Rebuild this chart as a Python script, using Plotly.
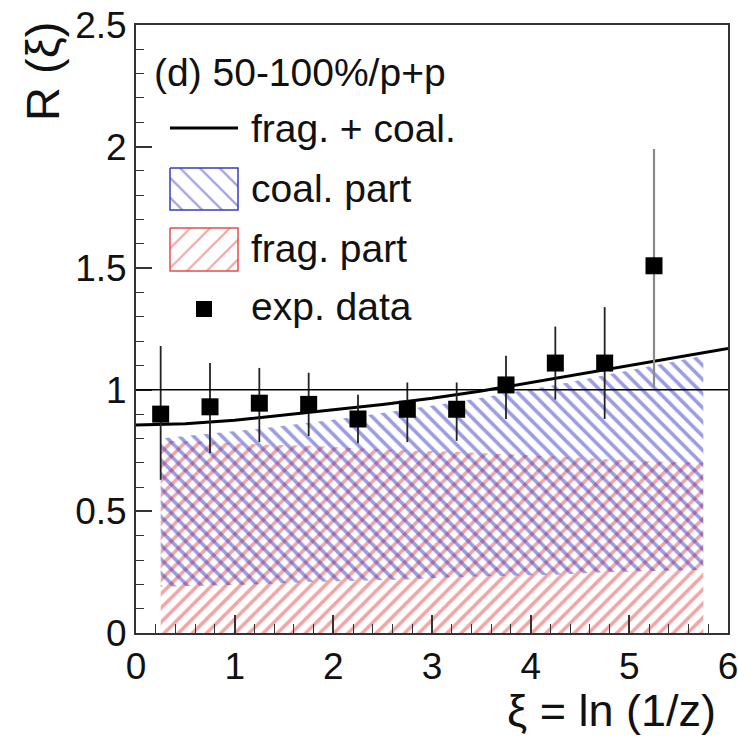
import plotly.graph_objects as go

# ---- data ----
xi_pts = [0.25, 0.75, 1.25, 1.75, 2.25, 2.75, 3.25, 3.75, 4.25, 4.75, 5.25]
r_exp = [0.90, 0.93, 0.945, 0.94, 0.88, 0.92, 0.92, 1.02, 1.11, 1.11, 1.51]
err_up = [0.28, 0.18, 0.145, 0.13, 0.10, 0.11, 0.11, 0.12, 0.15, 0.23, 0.48]
err_dn = [0.27, 0.19, 0.16, 0.13, 0.10, 0.135, 0.13, 0.14, 0.15, 0.23, 0.50]

xi_line = [0.0, 0.5, 1.0, 1.5, 2.0, 2.5, 3.0, 3.5, 4.0, 4.5, 5.0, 5.5, 6.0]
r_total = [0.855, 0.86, 0.875, 0.895, 0.918, 0.94, 0.965, 0.995, 1.03, 1.065, 1.10, 1.135, 1.17]

xi_band = [0.25, 0.75, 1.25, 1.75, 2.25, 2.75, 3.25, 3.75, 4.25, 4.75, 5.25, 5.75]
coal_lo = [0.19, 0.195, 0.20, 0.21, 0.215, 0.22, 0.23, 0.235, 0.24, 0.25, 0.255, 0.26]
coal_hi = [0.80, 0.82, 0.84, 0.865, 0.89, 0.92, 0.95, 0.985, 1.02, 1.06, 1.10, 1.14]
frag_hi = [0.79, 0.785, 0.775, 0.77, 0.76, 0.75, 0.745, 0.735, 0.725, 0.715, 0.705, 0.70]

x_ticks = [0, 1, 2, 3, 4, 5, 6]
y_ticks = [0, 0.5, 1, 1.5, 2, 2.5]
y_tick_text = ["0", "0.5", "1", "1.5", "2", "2.5"]

legend_labels = ["frag. + coal.", "coal. part", "frag. part", "exp. data"]
panel_label = "(d) 50-100%/p+p"

BLUE = "#3a3ac8"
RED = "#e64c4c"
FONT = "Liberation Sans"
FS_TICK = 37
FS_LEG = 39
FS_TITLE = 45

fig = go.Figure()

# frag part (red hatch from 0)
fig.add_trace(go.Scatter(
    x=xi_band + xi_band[::-1],
    y=frag_hi + [0.0] * len(xi_band),
    fill="toself", mode="lines", line=dict(width=0, color="rgba(0,0,0,0)"),
    fillcolor="rgba(0,0,0,0)",
    fillpattern=dict(shape="/", fgcolor=RED, bgcolor="rgba(0,0,0,0)", size=10, solidity=0.36),
    showlegend=False, hoverinfo="skip"))

# coal part (blue hatch band)
fig.add_trace(go.Scatter(
    x=xi_band + xi_band[::-1],
    y=coal_hi + coal_lo[::-1],
    fill="toself", mode="lines", line=dict(width=0, color="rgba(0,0,0,0)"),
    fillcolor="rgba(0,0,0,0)",
    fillpattern=dict(shape="\\", fgcolor=BLUE, bgcolor="rgba(0,0,0,0)", size=10, solidity=0.36),
    showlegend=False, hoverinfo="skip"))

# total line
fig.add_trace(go.Scatter(x=xi_line, y=r_total, mode="lines",
                         line=dict(color="black", width=3), showlegend=False))

# exp data
n = len(xi_pts) - 1
fig.add_trace(go.Scatter(
    x=xi_pts[:n], y=r_exp[:n], mode="markers",
    marker=dict(symbol="square", size=17, color="black"),
    error_y=dict(type="data", symmetric=False, array=err_up[:n], arrayminus=err_dn[:n],
                 color="#222222", thickness=1.8, width=0),
    showlegend=False))
fig.add_trace(go.Scatter(
    x=xi_pts[n:], y=r_exp[n:], mode="markers",
    marker=dict(symbol="square", size=17, color="black"),
    error_y=dict(type="data", symmetric=False, array=err_up[n:], arrayminus=err_dn[n:],
                 color="#8a8a8a", thickness=2.2, width=0),
    showlegend=False))

fig.add_hline(y=1, line=dict(color="black", width=1.6))

# ---- hand-drawn ROOT-style legend on a pixel overlay axis ----
L_X0, L_X1 = 170, 238
fig.add_trace(go.Scatter(x=[L_X0, L_X1], y=[128, 128], mode="lines",
                         line=dict(color="black", width=3), xaxis="x2", yaxis="y2",
                         showlegend=False, hoverinfo="skip"))
for (y0, y1, col, shp) in [(168, 210, BLUE, "\\"), (228, 271, RED, "/")]:
    fig.add_trace(go.Scatter(
        x=[L_X0, L_X1, L_X1, L_X0, L_X0], y=[y0, y0, y1, y1, y0],
        fill="toself", mode="lines", line=dict(color=col, width=1.5),
        fillcolor="rgba(0,0,0,0)",
        fillpattern=dict(shape=shp, fgcolor=col, bgcolor="rgba(0,0,0,0)", size=14, solidity=0.16),
        xaxis="x2", yaxis="y2", showlegend=False, hoverinfo="skip"))
fig.add_trace(go.Scatter(x=[204], y=[309], mode="markers",
                         marker=dict(symbol="square", size=16, color="black"),
                         xaxis="x2", yaxis="y2", showlegend=False, hoverinfo="skip"))

for lab, yy in zip(legend_labels, [128, 188, 248, 306]):
    fig.add_annotation(x=249, y=yy, xref="x2", yref="y2", text=lab, showarrow=False,
                       xanchor="left", yanchor="middle", font=dict(family=FONT, size=FS_LEG, color="#111"))
fig.add_annotation(x=152, y=72, xref="x2", yref="y2", text=panel_label, showarrow=False,
                   xanchor="left", yanchor="middle", font=dict(family=FONT, size=FS_LEG, color="#111"))

# axis titles
fig.add_annotation(x=1, y=0, xref="paper", yref="paper", xshift=-10, yshift=-77, text="ξ = ln (1/z)",
                   showarrow=False, xanchor="right", yanchor="middle",
                   font=dict(family=FONT, size=FS_TITLE, color="#111"))
fig.add_annotation(x=0, y=1, xref="paper", yref="paper", xshift=-94, yshift=-47, text="R (ξ)",
                   textangle=-90, showarrow=False, xanchor="center", yanchor="middle",
                   font=dict(family=FONT, size=FS_TITLE + 2, color="#111"))

axis_common = dict(showgrid=False, zeroline=False, showline=True, linecolor="#333",
                   linewidth=2, mirror=True, ticks="inside", tickcolor="#333", tickwidth=1.5,
                   automargin=False, ticklabeloverflow="allow",
                   tickfont=dict(family=FONT, size=FS_TICK, color="#111"))

fig.update_layout(
    width=738, height=748,
    margin=dict(l=136, r=10, t=25, b=115),
    paper_bgcolor="white", plot_bgcolor="white",
    showlegend=False,
    xaxis=dict(range=[0, 6], tickvals=x_ticks, ticklen=18,
               minor=dict(ticks="inside", dtick=0.2, ticklen=9, tickcolor="#333", tickwidth=1.2),
               **axis_common),
    yaxis=dict(range=[0, 2.5], tickvals=y_ticks, ticktext=y_tick_text, ticklen=16,
               minor=dict(ticks="inside", dtick=0.1, ticklen=8, tickcolor="#333", tickwidth=1.2),
               **axis_common),
    xaxis2=dict(overlaying="x", range=[136, 728], visible=False, fixedrange=True),
    yaxis2=dict(overlaying="y", range=[633, 25], visible=False, fixedrange=True),
)

fig.write_html("out.html")
